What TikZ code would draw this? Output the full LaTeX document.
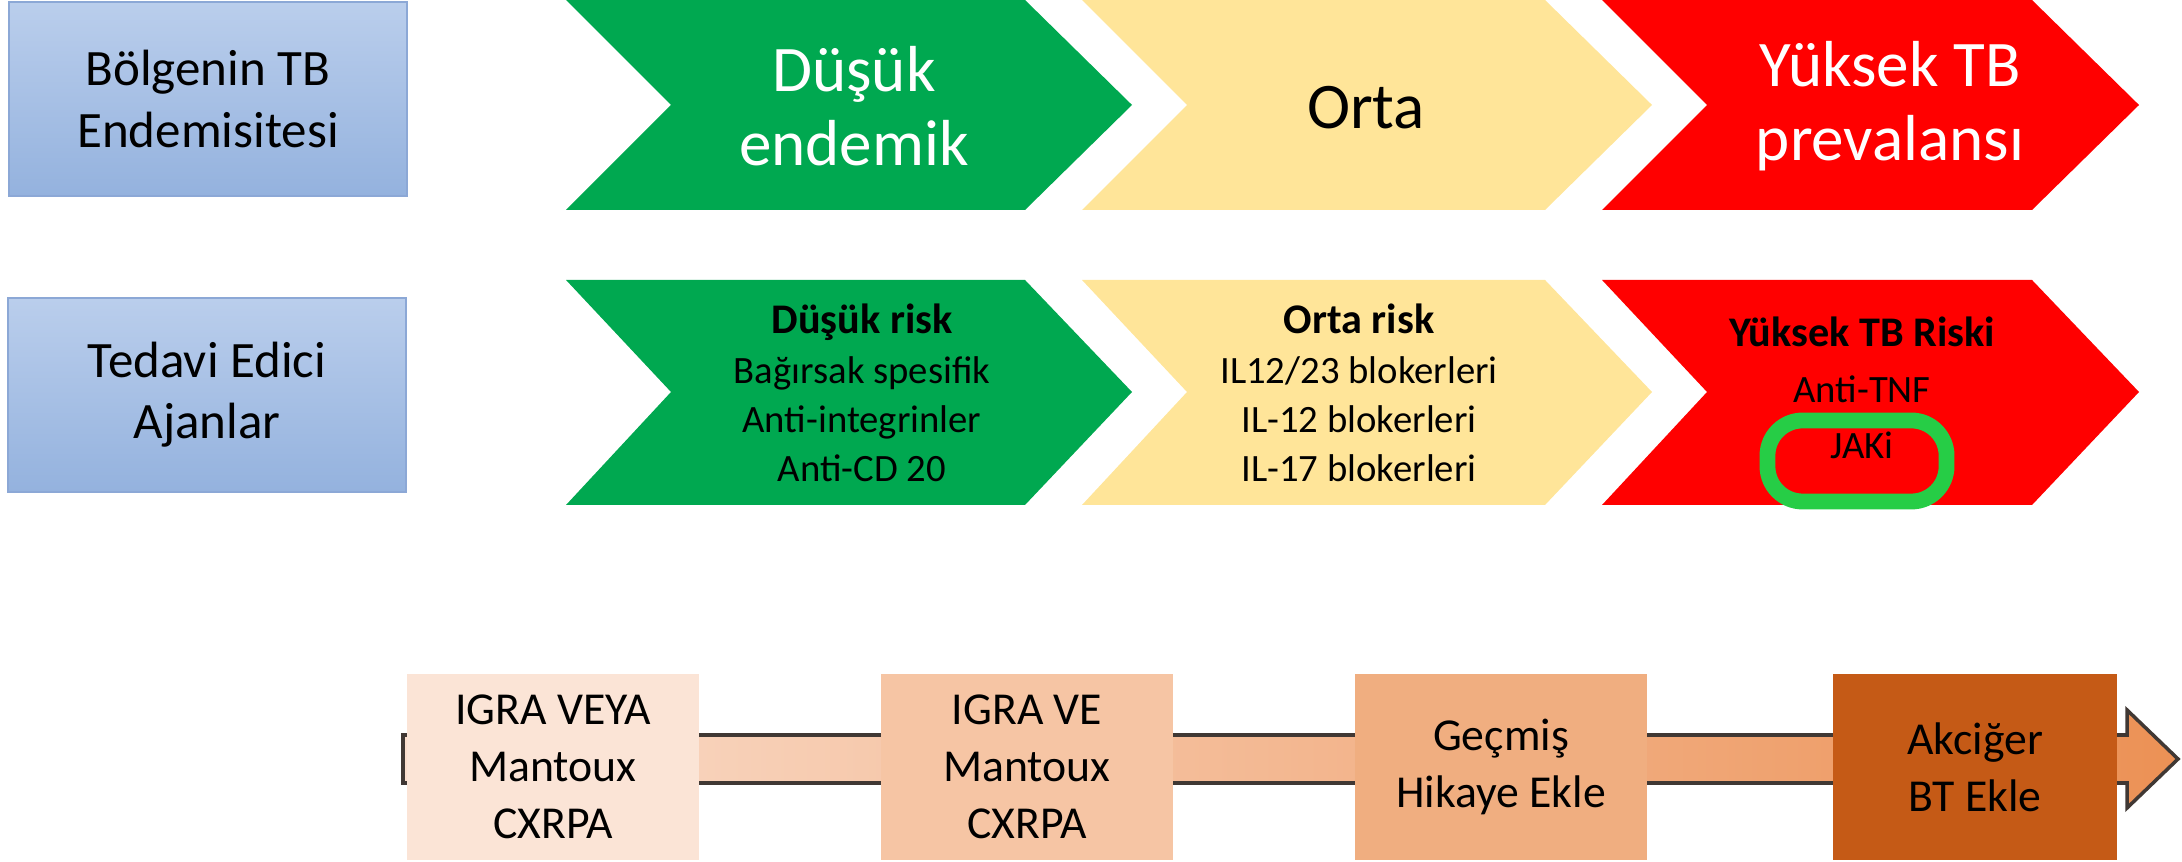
\documentclass[tikz,border=0pt]{standalone}
\usepackage{fontspec}
\setmainfont{Carlito}
\usepackage{xcolor}
\definecolor{boxblue}{RGB}{186, 206, 236}
\definecolor{boxblued}{RGB}{148, 178, 222}
\definecolor{boxborder}{RGB}{140, 168, 214}
\definecolor{lowgreen}{RGB}{0, 168, 80}
\definecolor{midyellow}{RGB}{255, 229, 153}
\definecolor{highred}{RGB}{255, 0, 0}
\definecolor{ringgreen}{RGB}{38, 205, 70}
\definecolor{peachA}{RGB}{251, 228, 214}
\definecolor{peachB}{RGB}{246, 197, 164}
\definecolor{peachC}{RGB}{240, 174, 128}
\definecolor{peachD}{RGB}{197, 90, 22}
\definecolor{bandleft}{RGB}{250, 222, 205}
\definecolor{bandright}{RGB}{236, 145, 85}
\definecolor{bandline}{RGB}{64, 56, 52}

\begin{document}
\begin{tikzpicture}[x = {(0.01cm,0)}, y = {(0,-0.01cm)},
  leftbox/.style = {draw = boxborder, line width = 0.6pt, top color = boxblue, bottom color = boxblued, minimum width = 3.97cm, minimum height = 1.94cm, align = center, font = \fontsize{14.5}{17.4}\selectfont},
  toptext/.style = {align = center, font = \fontsize{18.5}{21}\selectfont},
  risktext/.style = {align = center, font = \fontsize{11}{14}\selectfont},
  riskhead/.style = {font = \fontsize{12}{14}\selectfont\bfseries},
  stepbox/.style = {minimum width = 2.92cm, minimum height = 1.86cm, inner sep = 0pt, align = center, font = \fontsize{13}{16.2}\selectfont}]
\useasboundingbox (0,0) rectangle (2182,862);
% row labels
\node[leftbox] (endem) at (208,99) {Bölgenin TB\\Endemisitesi};
\node[leftbox] (agents) at (207,395) {Tedavi Edici\\Ajanlar};
% chevrons
\foreach \l/\r/\c in {566/1025/lowgreen, 1082/1545/midyellow, 1602/2032/highred}
{
\fill[\c] (\l,0) -- (\r,0) -- (\r+107,105) -- (\r,210) -- (\l,210) -- (\l+105,105) -- cycle;
\fill[\c] (\l,280) -- (\r,280) -- (\r+107,392) -- (\r,505) -- (\l,505) -- (\l+105,392) -- cycle;
}
\node[toptext, text = white] (lowend) at (854,106) {Düşük\\endemik};
\node[toptext] (midend) at (1366,108) {Orta};
\node[toptext, text = white] (highend) at (1890,106) {Yüksek TB\\prevalansı};
\node[risktext] (lowrisk) at (862,393) {{\fontsize{12}{14}\selectfont\bfseries Düşük risk}\\Bağırsak spesifik\\Anti-integrinler\\Anti-CD 20};
\node[risktext] (midrisk) at (1359,393) {{\fontsize{12}{14}\selectfont\bfseries Orta risk}\\IL12/23 blokerleri\\IL-12 blokerleri\\IL-17 blokerleri};
\node[risktext, font = \fontsize{11}{15.9}\selectfont] (highrisk) at (1862,388) {{\fontsize{12}{14}\selectfont\bfseries Yüksek TB Riski}\\Anti-TNF\\JAKi};
\node[draw = ringgreen, line width = 4.5pt, rounded corners = 10pt, minimum width = 1.79cm, minimum height = 0.81cm] (jakring) at (1857,461) {};
% screening steps
\shadedraw[left color = bandleft, right color = bandright, draw = bandline, line width = 1pt] (403,735) -- (2127,735) -- (2127,710) -- (2178,759) -- (2127,808) -- (2127,783) -- (403,783) -- cycle;
\node[stepbox, fill = peachA] (igraor) at (553,767) {IGRA VEYA\\Mantoux\\CXRPA};
\node[stepbox, fill = peachB] (igraand) at (1027,767) {IGRA VE\\Mantoux\\CXRPA};
\node[stepbox, fill = peachC] (history) at (1501,767) {Geçmiş\\Hikaye Ekle};
\node[stepbox, fill = peachD, minimum width = 2.84cm] (chestct) at (1975,767) {Akciğer\\BT Ekle};
\end{tikzpicture}
\end{document}
